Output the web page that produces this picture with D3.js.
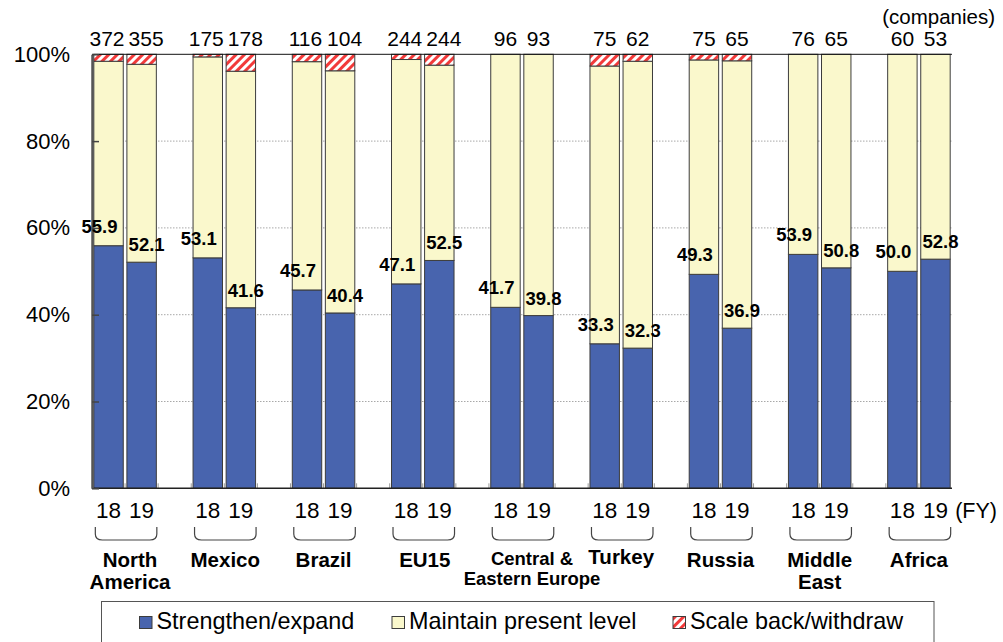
<!DOCTYPE html>
<html>
<head>
<meta charset="utf-8">
<script src="https://cdn.jsdelivr.net/npm/d3@7/dist/d3.min.js"></script>
<style>
  html, body { margin: 0; padding: 0; background: #fff; }
  svg { display: block; font-family: "Liberation Sans", Arial, sans-serif; }
</style>
</head>
<body>
<svg id="chart" width="1003" height="642"></svg>
<script>
// Regions (label lines) and fiscal years
const regionLines = [
  ["North", "America"], ["Mexico"], ["Brazil"], ["EU15"],
  ["Central &", "Eastern Europe"], ["Turkey"], ["Russia"], ["Middle", "East"], ["Africa"]
];
const years = ["18", "19"];

// Share of companies (%) by business direction
const strengthen18 = [55.9, 53.1, 45.7, 47.1, 41.7, 33.3, 49.3, 53.9, 50.0];
const strengthen19 = [52.1, 41.6, 40.4, 52.5, 39.8, 32.3, 36.9, 50.8, 52.8];
const scaleBack18  = [1.6, 0.6, 1.7, 1.2, 0, 2.7, 1.3, 0, 0];
const scaleBack19  = [2.3, 3.9, 3.8, 2.5, 0, 1.6, 1.5, 0, 0];

// Number of responding companies
const companies18 = [372, 175, 116, 244, 96, 75, 75, 76, 60];
const companies19 = [355, 178, 104, 244, 93, 62, 65, 65, 53];

// Y axis ticks
const yTicks = [0, 20, 40, 60, 80, 100];

const legendLabels = ["Strengthen/expand", "Maintain present level", "Scale back/withdraw"];
const keys = ["strengthen", "maintain", "scaleBack"];

const svg = d3.select("#chart");
const font = '"Liberation Sans", Arial, sans-serif';

// Red diagonal hatch used for "scale back"
const defs = svg.append("defs");
const pat = defs.append("pattern")
  .attr("id", "hatch").attr("patternUnits", "userSpaceOnUse")
  .attr("width", 6).attr("height", 6)
  .attr("patternTransform", "rotate(45)");
pat.append("rect").attr("width", 6).attr("height", 6).attr("fill", "#fff");
pat.append("rect").attr("width", 3).attr("height", 6).attr("fill", "#f23a3a");

const fills = { strengthen: "#4864ae", maintain: "#faf8cc", scaleBack: "url(#hatch)" };

// One row per bar; each region takes three slots (FY18, FY19, spacer)
const rows = [];
regionLines.forEach((r, i) => {
  [[strengthen18, scaleBack18, companies18], [strengthen19, scaleBack19, companies19]].forEach((arr, j) => {
    const s = arr[0][i], b = arr[1][i];
    rows.push({ region: i, year: years[j], yi: j, slot: i * 3 + j,
      strengthen: s, scaleBack: b, maintain: 100 - s - b, n: arr[2][i] });
  });
});

const x0 = 92, x1 = 952;
const x = d3.scaleBand().domain(d3.range(26)).range([x0, x1])
  .paddingInner(0.11).paddingOuter(0.055);
const y = d3.scaleLinear().domain([0, 100]).range([488.3, 54.3]);
const bw = x.bandwidth();

// Dotted gridlines
svg.append("g").selectAll("line").data(yTicks.filter(t => t > 0 && t < 100)).join("line")
  .attr("x1", x0).attr("x2", x1).attr("y1", d => y(d)).attr("y2", d => y(d))
  .attr("stroke", "#a8a8a8").attr("stroke-width", 1).attr("stroke-dasharray", "1.5,1.5");

// Small slot ticks on the baseline
svg.append("g").selectAll("line").data(d3.range(1, 26)).join("line")
  .attr("x1", d => x0 + d * x.step()).attr("x2", d => x0 + d * x.step())
  .attr("y1", y(0)).attr("y2", y(0) - 5)
  .attr("stroke", "#9a9a9a").attr("stroke-width", 1);

// Stacked bars
const stacked = d3.stack().keys(keys)(rows);
svg.append("g").selectAll("g").data(stacked).join("g")
  .attr("fill", d => fills[d.key])
  .selectAll("rect").data(d => d.filter(p => p[1] - p[0] > 0)).join("rect")
  .attr("x", d => x(d.data.slot))
  .attr("width", bw)
  .attr("y", d => y(d[1]))
  .attr("height", d => y(d[0]) - y(d[1]))
  .attr("stroke", "#3c3c3c").attr("stroke-width", 1);

// Top frame line and baseline
svg.append("line").attr("x1", x0).attr("x2", x1).attr("y1", y(100)).attr("y2", y(100))
  .attr("stroke", "#111").attr("stroke-width", 1);
svg.append("line").attr("x1", x0).attr("x2", x1).attr("y1", y(0)).attr("y2", y(0))
  .attr("stroke", "#222").attr("stroke-width", 1.5);

// Y axis
const yAxis = d3.axisLeft(y).tickValues(yTicks).tickFormat(d => d + "%")
  .tickSizeInner(-7).tickSizeOuter(0).tickPadding(22);
const gy = svg.append("g").attr("transform", `translate(${x0},0)`).call(yAxis);
gy.select(".domain").attr("stroke", "#555").attr("stroke-width", 2.5);
gy.selectAll(".tick line").attr("stroke", "#444").attr("stroke-width", 1.5);
gy.selectAll(".tick text").attr("font-size", 22).attr("font-family", font).attr("fill", "#000");

// Year labels under each bar
const xAxis = d3.axisBottom(x).tickValues(rows.map(r => r.slot))
  .tickFormat(s => years[s % 3]).tickSize(0).tickPadding(13.3);
const gx = svg.append("g").attr("transform", `translate(0,${y(0)})`).call(xAxis);
gx.select(".domain").remove();
gx.selectAll(".tick text").attr("font-size", 22.5).attr("font-family", font).attr("fill", "#000");

svg.append("text").attr("x", 997).attr("y", 517.5).attr("text-anchor", "end")
  .attr("font-size", 21.5).text("(FY)");

// Company counts above bars (three-digit pairs spread apart)
svg.append("g").selectAll("text").data(rows).join("text")
  .attr("x", d => x(d.slot) + bw / 2 + (d.n >= 100 ? (d.yi === 0 ? -1.5 : 4.5) : 0))
  .attr("y", 46)
  .attr("text-anchor", "middle").attr("font-size", 21).text(d => d.n);
svg.append("text").attr("x", 995).attr("y", 24).attr("text-anchor", "end")
  .attr("font-size", 20.5).text("(companies)");

// "Strengthen/expand" value labels
svg.append("g").selectAll("text").data(rows).join("text")
  .attr("x", d => x(d.slot) + bw / 2 + (d.yi === 0 ? -9 : 5))
  .attr("y", d => y(d.strengthen) - (d.yi === 0 ? 13 : 11))
  .attr("text-anchor", "middle").attr("font-size", 18.5).attr("font-weight", "bold")
  .text(d => d.strengthen.toFixed(1));

// Brackets joining each pair of years
const pairs = regionLines.map((r, i) => ({ i, a: x(i * 3), b: x(i * 3 + 1) + bw }));
svg.append("g").selectAll("path").data(pairs).join("path")
  .attr("d", p => {
    const l = p.a + 1.5, r = p.b + 0.5, t = 527, bt = 540;
    return `M${l},${t} L${l},${bt - 6} Q${l},${bt} ${l + 7},${bt} L${r - 7},${bt} Q${r},${bt} ${r},${bt - 6} L${r},${t}`;
  })
  .attr("fill", "none").attr("stroke", "#444").attr("stroke-width", 1.2);

// Region names
const labelDx = [5, 1, 0, 2, 10, 0, 0, 0, 0];
const gr = svg.append("g").attr("font-weight", "bold").attr("text-anchor", "middle");
pairs.forEach(p => {
  const lines = regionLines[p.i];
  const small = lines.length > 1 && lines[1].length > 8;
  const size = small ? 18.5 : 20.5;
  const base = small ? 565 : (p.i === 5 ? 564 : 567);
  const lh = small ? 20 : 22;
  const t = gr.append("text").attr("font-size", size)
    .attr("x", (p.a + p.b) / 2 + labelDx[p.i]);
  lines.forEach((ln, k) => {
    t.append("tspan").attr("x", (p.a + p.b) / 2 + labelDx[p.i]).attr("y", base + k * lh).text(ln);
  });
});

// Legend
const lg = svg.append("g");
lg.append("rect").attr("x", 101.5).attr("y", 601.5).attr("width", 832.5).attr("height", 60)
  .attr("fill", "#fff").attr("stroke", "#555").attr("stroke-width", 1);
const legendX = [139.5, 392, 673];
keys.forEach((k, i) => {
  lg.append("rect").attr("x", legendX[i]).attr("y", 616.5).attr("width", 12.5).attr("height", 12)
    .attr("fill", fills[k]).attr("stroke", "#3c3c3c").attr("stroke-width", 1);
  lg.append("text").attr("x", legendX[i] + 17).attr("y", 629).attr("font-size", 23.4)
    .text(legendLabels[i]);
});
</script>
</body>
</html>
